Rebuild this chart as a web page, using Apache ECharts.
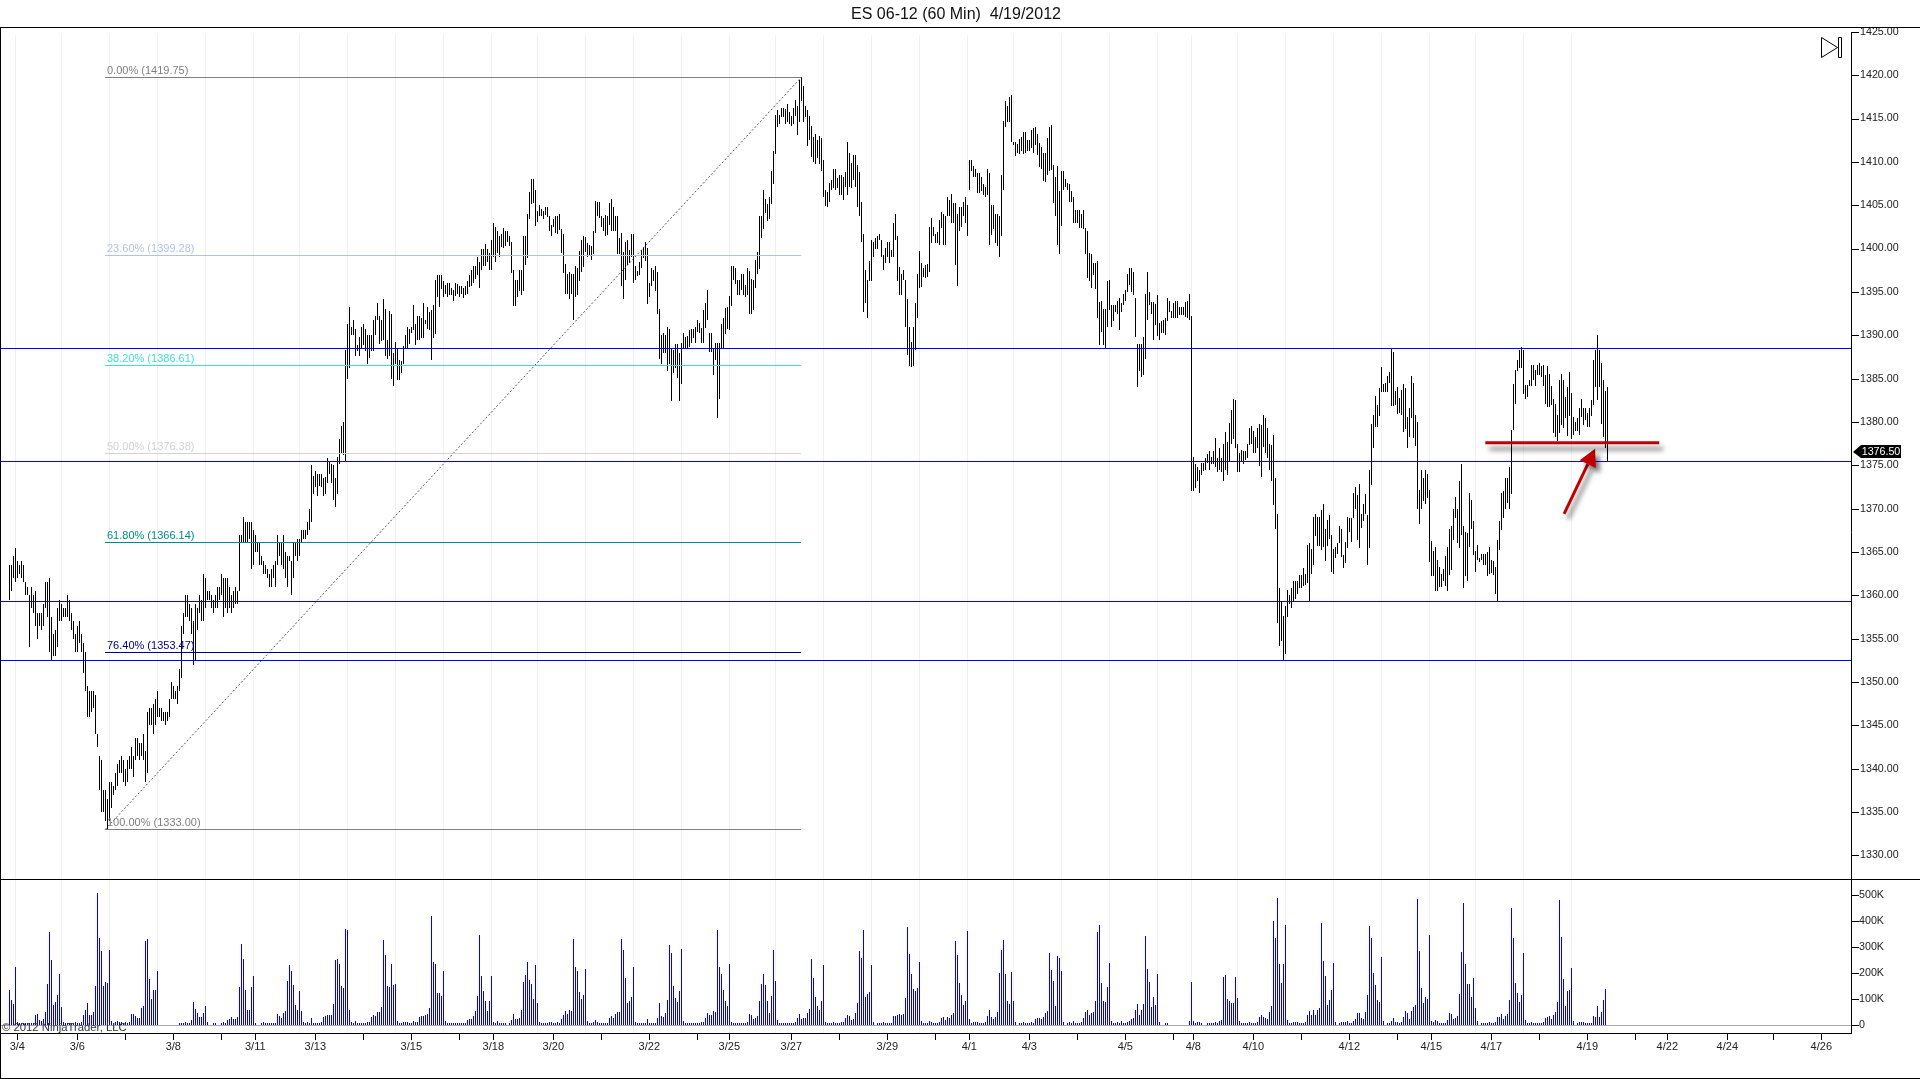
<!DOCTYPE html>
<html><head><meta charset="utf-8"><style>html,body{margin:0;padding:0;background:#fff}#c{width:1920px;height:1079px}</style>
<script src="https://cdn.jsdelivr.net/npm/echarts@6/dist/echarts.min.js"></script></head><body><div id="c"></div><script>
const titleText='ES 06-12 (60 Min)  4/19/2012';
const priceTicks=[1330,1335,1340,1345,1350,1355,1360,1365,1370,1375,1380,1385,1390,1395,1400,1405,1410,1415,1420,1425];
const volumeTicks=[0,100,200,300,400,500];
const tickBars=[4,34,58,82,106,123,153,177,201,225,242,272,296,320,344,360,391,415,439,463,480,510,534,558,582,592,622,646,670,694,711,741,765,789,813,829,859,882,906];
const tickLabels=['3/4','3/6','','3/8','','3/11','3/13','','3/15','','3/18','3/20','','3/22','','3/25','3/27','','3/29','','4/1','4/3','','4/5','','4/8','4/10','','4/12','','4/15','4/17','','4/19','','4/22','4/24','','4/26'];
const gridBars=[3,26,50,74,98,122,145,169,193,217,241,264,288,312,336,360,383,407,431,455,479,502,526,550,574,591,614,638,662,686,710,733,757,781];
const levels=[1388.5,1375.45,1359.3,1352.5];
const fibPct=['0.00%','23.60%','38.20%','50.00%','61.80%','76.40%','100.00%'];
const fibVal=[1419.75,1399.28,1386.61,1376.38,1366.14,1353.47,1333.00];
const fibCol=['#808080','#B0C4DE','#40E0D0','#D3D3D3','#008B8B','#000080','#808080'];
const fibRange=[48,396];
const lastPrice=1376.5;
const redLine=[[738,1377.6],[825,1377.6]];
const redArrow=[[777.4,1369.4],[792.9,1376.9]];
// [high, low] of each 60 minute bar
const hiLo=[[1363.5,1359.5],[1363.5,1360.5],[1364.5,1362],[1365.5,1361.5],[1364,1362],[1363.5,1362.5],[1364,1362],[1363.5,1361.5],[1361.5,1360],[1361,1360],
[1360,1354],[1361,1358.5],[1360,1358],[1360.5,1356.5],[1358,1355],[1358,1356.5],[1358,1356],[1359,1356.5],[1361.5,1358.5],[1361.5,1357.5],
[1362,1353.5],[1357.5,1352.5],[1355.5,1353],[1356,1353],[1358.5,1354],[1359.5,1357],[1359,1357],[1358.5,1357.5],[1358.5,1357.5],[1360,1357.5],
[1359.5,1357],[1358,1356],[1357,1355],[1355.5,1353.5],[1356.5,1353.5],[1357,1354.5],[1355.5,1353.5],[1354.5,1351],[1353.5,1349],[1349.5,1346],
[1349,1346],[1349,1346.5],[1349,1347],[1348.5,1344],[1344,1342.5],[1341.5,1337.5],[1341,1335],[1337.5,1335],[1337.5,1334],[1336.5,1333],
[1338.5,1334],[1338.5,1335.5],[1338,1337],[1339.5,1337.5],[1340.5,1338],[1341,1339.5],[1341.5,1339.5],[1341,1338.5],[1340,1338],[1341,1338.5],
[1341.5,1340],[1342.5,1340],[1341.5,1339],[1343.5,1341],[1343.5,1341.5],[1343,1341],[1343,1341.5],[1344,1341],[1342,1338.5],[1346.5,1339.5],
[1347,1345],[1347,1345],[1347.5,1344],[1348,1345],[1349,1346],[1347,1346],[1347,1345.5],[1346.5,1345.5],[1346.5,1345],[1346.5,1345.5],
[1348,1346],[1350,1348],[1349.5,1348],[1349,1348],[1349.5,1347.5],[1351.5,1349],[1356.5,1350.5],[1358,1355.5],[1360,1357.5],[1360,1357.5],
[1359,1357],[1358.5,1355.5],[1357,1352],[1359,1352.5],[1358.5,1356],[1360,1358],[1359.5,1357],[1362.5,1357],[1362,1358.5],[1360.5,1359.5],
[1360.5,1359.5],[1360,1358.5],[1359.5,1358],[1360,1358.5],[1361,1358.5],[1361,1359.5],[1362.5,1360],[1362,1357.5],[1362,1358.5],[1362,1358],
[1361,1358.5],[1360,1358],[1360.5,1358.5],[1361,1359],[1360.5,1359],[1367,1360.5],[1367,1366],[1369,1366],[1368.5,1366],[1368.5,1366],
[1368.5,1366.5],[1368.5,1363],[1367.5,1363.5],[1367,1365],[1366,1365],[1366,1363.5],[1364.5,1363.5],[1364,1362.5],[1363.5,1362.5],[1363,1362],
[1362.5,1361],[1363,1361],[1363.5,1362],[1364,1361],[1367,1363.5],[1366,1364.5],[1366,1363.5],[1367,1363],[1365,1362],[1364.5,1361],
[1364.5,1364],[1364,1360],[1366,1362],[1366,1364.5],[1366.5,1364],[1366.5,1364.5],[1367.5,1366],[1367.5,1366.5],[1367.5,1366.5],[1368.5,1367],
[1370,1367.5],[1375,1368.5],[1373.8,1371.7],[1374.3,1372.5],[1374,1371.5],[1374,1372.6],[1374,1372.5],[1373.5,1371.5],[1373.7,1371.7],[1375.8,1373],
[1375.4,1374],[1375.2,1373],[1375,1371],[1373.5,1370.2],[1376,1371.7],[1378,1375.2],[1379.5,1376.4],[1380,1376.2],[1388.3,1375.4],[1391.3,1385],
[1393.2,1386.2],[1391,1390],[1391.7,1390],[1390.7,1387.6],[1388.9,1388.2],[1389.8,1387.6],[1391,1388.5],[1391.3,1388.9],[1390.7,1388.2],[1390,1386.7],
[1390,1387.4],[1390,1388.2],[1391.7,1388.2],[1392.2,1390],[1393.7,1391.7],[1392.2,1389],[1391.7,1389.3],[1394.2,1389.5],[1393,1387.6],[1389.5,1387.3],
[1392.8,1387.6],[1392.5,1385],[1388,1384.1],[1389.2,1386.7],[1388.4,1384.8],[1387.2,1384.8],[1387,1385.7],[1388.8,1386.7],[1390,1388.5],[1391,1388.5],
[1390.7,1389],[1391,1390.2],[1393.5,1390.6],[1391.3,1388.9],[1392.2,1389.5],[1392.2,1389.5],[1392,1389.7],[1393.7,1389.7],[1391.7,1391.3],[1393.2,1390.7],
[1392.7,1390.6],[1392.9,1387.1],[1393.5,1389.7],[1396.4,1390.1],[1397,1394.4],[1397,1393.2],[1397,1395.3],[1396.2,1394.4],[1395.8,1394.8],[1396,1394.4],
[1396,1394.6],[1395.5,1394.6],[1395.2,1394],[1396,1394.5],[1395.9,1394.8],[1395.7,1394.4],[1395.7,1394.8],[1395.5,1394.3],[1395.7,1394.6],[1396.2,1394.8],
[1397,1395.6],[1397.5,1395.7],[1398,1396],[1398,1396.5],[1399,1397],[1398.5,1395.5],[1400,1397.5],[1400,1398],[1400.5,1398],[1400,1398.5],
[1399.5,1397.5],[1401,1397.5],[1403,1399],[1402.5,1398.5],[1402,1399.5],[1401.5,1399],[1401.7,1400.2],[1402.4,1400.1],[1402,1400.3],[1402,1400.8],
[1401.5,1400.3],[1400.8,1397.2],[1397.5,1393.4],[1396.4,1393.4],[1396.4,1394.4],[1397.5,1395.1],[1397.5,1394.6],[1401.5,1395.1],[1401.5,1398.1],[1404,1398.9],
[1406.5,1403.4],[1408,1405.1],[1408,1405.2],[1406.7,1402.6],[1404.3,1403.1],[1405,1403.7],[1404.6,1403.7],[1404.3,1403.4],[1404.8,1403.9],[1404.8,1403.6],
[1403.7,1402],[1402.7,1401.4],[1403.4,1402.5],[1403.7,1401.8],[1403.7,1401.7],[1404,1402.1],[1402.3,1399.5],[1401.7,1397.2],[1398.2,1394.8],[1397.1,1394.8],
[1397.3,1394.2],[1397.1,1394.8],[1397.1,1391.7],[1398,1394.4],[1397.7,1394.6],[1399.7,1396.2],[1401,1397.3],[1401.5,1397.9],[1401.3,1399.6],[1400.6,1399],
[1400.4,1399.3],[1400.3,1398.7],[1402,1399.4],[1405.5,1401.8],[1405.4,1403.7],[1405.4,1403.5],[1403.7,1402.5],[1403.5,1402],[1403.9,1401.4],[1403.7,1401.6],
[1405.3,1402.7],[1405.7,1402],[1404.8,1402],[1403.7,1402],[1403.7,1399.4],[1401.2,1399.4],[1401.8,1395.7],[1399.6,1394.2],[1400.8,1396.4],[1401,1398.1],
[1399.8,1398.3],[1401.7,1399],[1401.7,1396],[1398,1396.4],[1397.4,1396.8],[1398.5,1397],[1399.8,1397.7],[1400.2,1398.9],[1400.7,1398.6],[1400.1,1393.6],
[1396,1394.4],[1397.7,1395.7],[1397.5,1396.2],[1398,1395.1],[1397.3,1392.5],[1393,1387.3],[1390,1386.7],[1390.2,1388],[1390,1387.9],[1391,1385.9],
[1390.7,1386.7],[1388.4,1382.4],[1388.3,1385.6],[1389,1386.2],[1389,1385.1],[1388,1382.4],[1389.1,1384.4],[1390.2,1388.5],[1389.8,1388.5],[1389.9,1388.5],
[1390.6,1388.6],[1390.7,1389.1],[1390.7,1389.7],[1391,1389.1],[1391.7,1390.4],[1391.4,1390.2],[1390.8,1389.1],[1392.9,1389.1],[1393.7,1390.8],[1395.2,1391.8],
[1390.2,1388.1],[1390.2,1388.1],[1388.5,1385.4],[1389.1,1387.1],[1389.1,1380.5],[1389.1,1382.7],[1391.3,1388.5],[1392,1388.5],[1393.1,1390.1],[1393.2,1390.7],
[1394.5,1390.6],[1398,1393.4],[1398,1396.4],[1397.7,1395.9],[1396.4,1394.6],[1396.4,1394.6],[1397.1,1395.2],[1397.1,1394.6],[1395.8,1394.4],[1397.7,1394.6],
[1397.4,1392.4],[1396.5,1392.4],[1396.4,1392.9],[1398.7,1395.4],[1399.6,1397.1],[1403.7,1397.6],[1403.7,1401.2],[1406.8,1402.3],[1405.7,1404.1],[1405.1,1403.2],
[1406,1403.4],[1408.9,1405.1],[1411.3,1407.4],[1415.4,1410.9],[1416,1414],[1415.4,1414.4],[1416.2,1415.2],[1416.2,1415.2],[1416.1,1414.4],[1416.7,1414.6],
[1415.8,1414.4],[1415.3,1414.1],[1416.2,1414.4],[1417.1,1415.3],[1416.4,1413.1],[1419.4,1414.6],[1419.75,1417],[1418.7,1414.6],[1416.5,1415.2],[1416,1411.8],
[1415.3,1412.5],[1414.1,1410.6],[1412.9,1410],[1413.2,1409.8],[1412.5,1410.4],[1413,1409.8],[1412.7,1408.9],[1410.2,1406],[1406.7,1404.9],[1406.5,1404.8],
[1407.6,1405.4],[1407.9,1406.8],[1409.2,1407],[1409.2,1406.8],[1408.1,1407],[1408.5,1406.2],[1408.5,1406.2],[1408.3,1405.6],[1408.8,1407.1],[1412.3,1406.2],
[1411,1407.1],[1409.9,1407],[1410.8,1407.9],[1410.8,1407.1],[1409.6,1404.8],[1408.8,1403.7],[1405.4,1400.7],[1401.7,1392.7],[1397.5,1393.7],[1396.4,1392],
[1398.6,1396.2],[1401,1396.2],[1400.8,1399],[1401.2,1400],[1401.5,1399.9],[1401.7,1401],[1401,1399],[1399.2,1397.5],[1400.1,1398.3],[1400.8,1399],
[1400.7,1398.3],[1399.8,1399],[1403,1399],[1404,1401],[1401.5,1396.2],[1397.9,1394.6],[1397.1,1394.6],[1397.5,1396.4],[1396.4,1391],[1394.2,1387.7],
[1391,1386.4],[1389.2,1386.3],[1391,1386.5],[1393.7,1388.3],[1397.1,1392],[1399.7,1395.4],[1398.3,1395.6],[1397.7,1396.7],[1398.1,1396.6],[1398.2,1396.7],
[1402.5,1397.3],[1403.5,1400.6],[1402.5,1401.4],[1401.7,1400.6],[1401.9,1400.6],[1403.3,1400.4],[1404.2,1402.4],[1404,1400.4],[1403.7,1400.4],[1406,1403.7],
[1405.6,1403.7],[1406.3,1402.9],[1405.2,1402.9],[1405.2,1398.1],[1404,1395.7],[1404.8,1402],[1404.8,1402.5],[1405.4,1403.7],[1406,1403],[1405,1401.4],
[1410.2,1406.7],[1410.2,1408.9],[1409.5,1408.3],[1409.2,1408.2],[1408.7,1406.4],[1408.7,1406.4],[1408.2,1406.6],[1407.5,1406.2],[1407.1,1406],[1409.2,1406.2],
[1408.7,1400.4],[1405,1401.6],[1405,1402.2],[1404,1400.6],[1404,1400.3],[1403.7,1399],[1408.5,1401.4],[1414.7,1406.7],[1417,1414],[1416.4,1414.6],
[1417.5,1414.6],[1417.7,1412.3],[1412.3,1412],[1412.3,1410.7],[1412.1,1411],[1412.6,1410.9],[1412.9,1411.2],[1413.5,1410.9],[1413.4,1411],[1412.5,1411.3],
[1412.5,1411.2],[1413.7,1411.6],[1413.9,1411],[1414,1412],[1413.2,1410.8],[1412.2,1409.4],[1411.7,1409.2],[1411,1407.8],[1411,1407.7],[1412.7,1408.5],
[1414,1408.9],[1414.2,1409.1],[1409.6,1405.2],[1408.3,1403.7],[1409.5,1400.4],[1406.6,1399.4],[1409,1402.6],[1408.9,1406.7],[1408,1407.1],[1407.6,1406.7],
[1407.5,1405.4],[1406.6,1405.4],[1406,1403],[1404.5,1403],[1404.5,1402.9],[1404.5,1402.4],[1404,1402.4],[1404.5,1402.3],[1402.4,1399.4],[1402,1396.6],
[1399.5,1396.2],[1399.4,1395.4],[1398.3,1396.9],[1398.3,1395.3],[1398.6,1392],[1393.8,1388.9],[1394,1390.4],[1393,1388.9],[1393,1388.5],[1396.3,1391],
[1396.4,1392.9],[1393.5,1391],[1393.5,1391.6],[1393.5,1392.7],[1394,1392.5],[1394.3,1390.6],[1393.7,1392.7],[1394.8,1393.5],[1395.2,1393.9],[1397.1,1395],
[1397.7,1395.8],[1397.7,1395],[1397.3,1394.6],[1394.3,1389.8],[1389,1384],[1389,1385.9],[1389,1385.2],[1389.8,1385.4],[1394.8,1387.3],[1397.3,1391.7],
[1395,1393.5],[1393.8,1392.5],[1393.8,1389.5],[1393.6,1391.2],[1394.6,1389.9],[1391.4,1389.5],[1391.6,1390.3],[1391.8,1390.3],[1392,1390],[1394.3,1391.6],
[1393.9,1392.7],[1392.8,1392],[1393.7,1392],[1394,1392],[1394,1392],[1393.3,1392.3],[1393.3,1392.3],[1393.3,1392.3],[1393.8,1392.1],[1394,1392],
[1394.8,1391.8],[1392.2,1372],[1376,1372],[1375.2,1372.4],[1374.8,1373.2],[1374.5,1371.8],[1375.3,1373.9],[1375.3,1374.3],[1375.8,1374.5],[1376.3,1375.3],
[1376.6,1374.4],[1376,1375.1],[1376.6,1375.2],[1378.2,1374.8],[1375.8,1374.2],[1377,1374.4],[1375.8,1374.2],[1377.5,1373.2],[1378.8,1374.4],[1377.7,1373.9],
[1379.9,1375.4],[1381.4,1377.5],[1382.7,1378],[1382.5,1377],[1377.5,1374.2],[1376.4,1374.2],[1376.8,1375.4],[1376.6,1375.2],[1376.6,1375.6],[1377.5,1375.8],
[1379.3,1377.3],[1379.5,1377.5],[1379,1376.4],[1378.3,1376.4],[1379.3,1377],[1379.8,1374.9],[1379.6,1373.7],[1380.8,1377.1],[1380.5,1376.4],[1379.3,1375.8],
[1377.5,1374.4],[1377.3,1373.2],[1378.5,1370.4],[1373.5,1367.7],[1369.4,1356.8],[1360.8,1354.1],[1359.3,1354.7],[1357.6,1352.5],[1358.8,1353.2],[1360.6,1357.5],
[1360,1359],[1360.8,1358.5],[1361.7,1359.4],[1361.6,1359.6],[1361.7,1360.2],[1362.3,1360.8],[1362.3,1360.8],[1363.2,1361.1],[1362.5,1361.2],[1365.8,1361.4],
[1366,1359.3],[1365.3,1362.5],[1369,1363.5],[1369.4,1366.8],[1369,1365.7],[1369,1365.7],[1369.8,1365.2],[1370.5,1365.6],[1367.7,1364],[1368.7,1365.7],
[1369.3,1366.5],[1367,1362.7],[1365.3,1362.5],[1365.6,1364.3],[1366,1364.8],[1368,1366],[1367.7,1364.4],[1364.6,1363.2],[1366.2,1363.7],[1369,1365.5],
[1368.9,1367.3],[1368.9,1366.2],[1371.8,1368.9],[1372.5,1369.9],[1371.6,1366.4],[1372.8,1365.5],[1369.4,1367.8],[1370.5,1368.6],[1371.7,1369.4],[1369.3,1363.5],
[1374.4,1365.5],[1379.8,1372.7],[1380.8,1377],[1383,1379.4],[1382,1379.4],[1383.9,1380.7],[1386.3,1383.5],[1384.4,1383.5],[1384.5,1383.5],[1385.3,1383.4],
[1385.8,1384.5],[1388.5,1381.8],[1388.1,1381.8],[1383.6,1382],[1384,1380.9],[1382.8,1381],[1383.7,1380.8],[1384.4,1378.8],[1383.9,1379.2],[1380.6,1377],
[1381.6,1378.3],[1385.3,1380.4],[1384.5,1378.2],[1380.8,1377.2],[1380,1369.9],[1372.2,1368.2],[1374.4,1369.9],[1373.5,1370.9],[1374.5,1370.5],[1374,1371.2],
[1372.2,1363.8],[1366.3,1362.2],[1365.1,1362.2],[1365.6,1360.5],[1364.1,1360.5],[1363.3,1361],[1362.5,1361],[1363,1361.6],[1364.5,1361.1],[1365.6,1360.5],
[1367.7,1362.3],[1368,1362.9],[1370,1366.4],[1371.3,1368.9],[1370,1366],[1373.2,1365.5],[1375.2,1367],[1368,1360.8],[1367.3,1362.2],[1367.2,1361.7],
[1371.8,1365.6],[1371,1367.7],[1368.6,1364.6],[1365.1,1362.7],[1365.8,1364.1],[1364.3,1363.8],[1364.8,1364.1],[1364.8,1363.5],[1364.8,1363.5],[1365,1362.2],
[1365.6,1362.5],[1364.1,1362.6],[1363.9,1362.3],[1363.3,1360.2],[1366.4,1359.3],[1368.6,1365.2],[1371.8,1367.5],[1372,1368.9],[1373.5,1370],[1373.5,1370.6],
[1374.8,1369.9],[1379.1,1371.7],[1384.4,1379.1],[1386,1382.1],[1387.2,1385.9],[1388.3,1386.2],[1388.7,1386.2],[1388.3,1383.2],[1384.3,1382.7],[1384.3,1382.9],
[1384.8,1384.1],[1386.6,1384.1],[1386.6,1384.8],[1386,1384.1],[1386.6,1385.4],[1386.8,1385.4],[1386.4,1385.2],[1386.6,1384.1],[1385.4,1382.1],[1386.4,1381.7],
[1385.5,1381.7],[1384.1,1382],[1382.7,1378.7],[1382.1,1378.3],[1380.8,1377.8],[1384.8,1378.7],[1385.5,1379.6],[1384.8,1379.3],[1382.9,1380.4],[1384,1378.4],
[1385.8,1380.7],[1383.3,1378],[1380.6,1378.5],[1380,1379],[1380.4,1378.9],[1381.6,1378.5],[1382.7,1380.6],[1381.6,1379.6],[1381.6,1380.2],[1381,1379.4],
[1381.6,1379.4],[1382.5,1380.7],[1387.2,1382],[1388.3,1384],[1390,1382.5],[1388.3,1384],[1386.8,1379.8],[1384.8,1378.3],[1383.6,1377],[1384,1375.4]];
// volume of each bar, thousands of contracts
const volumesK=[133,95,80,220,10,6,8,6,5,8,6,5,8,37,41,20,13,22,50,156,356,248,75,87,114,195,68,9,6,8,6,5,8,10,8,6,10,37,56,83,37,37,49,149,506,333,283,149,164,160,287,13,5,10,14,10,9,5,9,5,9,41,41,33,26,26,64,72,322,329,176,99,133,133,206,
0,0,0,0,0,0,0,0,0,0,5,8,5,10,5,6,18,87,60,45,29,29,45,72,10,0,0,5,5,0,0,6,10,8,18,22,29,22,23,29,145,310,253,133,56,56,145,187,6,0,0,5,10,6,6,5,5,5,5,41,33,26,45,53,168,229,206,153,76,56,129,53,9,5,9,
5,26,8,6,5,5,10,29,33,37,37,37,79,249,253,233,149,141,368,364,56,10,5,14,5,6,5,6,6,10,10,29,37,33,49,49,68,326,268,149,145,233,153,156,14,5,6,10,10,10,6,5,14,9,10,29,33,33,37,41,64,418,241,233,122,122,110,206,14,6,
6,6,6,6,6,6,6,6,6,18,22,22,33,53,110,345,187,129,91,53,91,187,9,5,14,5,6,5,5,0,5,18,41,22,22,26,56,164,191,241,172,156,99,229,83,9,6,6,6,6,10,10,6,6,9,6,22,37,53,41,56,53,329,222,206,126,99,114,214,14,
6,5,9,18,9,6,6,6,5,5,26,33,26,41,49,49,329,287,179,83,91,106,222,10,6,6,6,6,6,22,6,6,6,6,26,83,33,29,45,95,306,276,149,103,87,129,291,14,6,6,6,6,6,6,6,6,10,10,26,45,37,37,53,49,364,222,195,133,91,72,233,10,
6,6,6,6,6,6,6,10,41,37,22,26,33,91,156,195,153,91,45,110,287,168,18,6,6,6,6,6,6,6,6,10,26,41,22,26,26,45,60,253,179,106,72,56,91,229,10,6,6,6,10,6,6,6,10,10,26,37,33,18,22,45,83,283,256,364,106,118,126,229,10,0,
6,6,6,10,6,6,6,6,33,33,37,41,37,41,103,376,272,195,137,129,141,241,14,6,6,6,14,10,6,6,6,10,26,29,18,29,26,37,45,322,268,160,114,76,91,360,22,6,10,10,10,6,6,6,10,33,56,29,22,29,49,199,287,326,195,91,79,203,91,10,0,
6,6,10,6,6,6,10,6,22,26,26,22,29,45,53,276,210,168,72,264,256,206,10,0,6,10,6,14,6,6,6,10,26,49,56,37,45,49,91,356,383,160,91,87,145,237,14,6,6,10,6,14,6,6,10,14,22,26,56,79,37,56,79,341,214,164,68,106,76,195,10,0,0,6,6,
0,0,0,0,0,0,0,0,0,0,14,164,14,6,10,10,6,0,0,6,6,6,6,10,6,14,18,183,191,99,91,83,83,183,103,14,6,6,6,6,10,6,6,6,10,29,37,29,26,22,49,72,399,333,487,233,160,233,383,18,6,6,10,10,10,6,6,6,10,37,53,37,56,37,56,64,391,245,187,76,95,133,237,10,0,
6,10,10,10,14,6,6,14,22,45,45,26,22,49,114,379,333,199,153,95,87,260,14,0,6,6,14,26,10,10,6,10,29,53,45,22,53,68,76,483,283,141,83,106,99,345,14,10,18,14,6,6,6,6,18,45,41,22,26,33,118,279,468,233,156,156,106,179,64,14,0,
6,6,6,6,10,6,6,10,29,29,41,22,33,41,95,449,333,160,122,87,114,276,18,6,6,10,6,6,6,6,6,10,26,29,33,22,37,49,87,479,337,176,72,129,133,218,14,0,6,10,10,10,6,6,6,6,33,29,72,29,49,95,137];

const PX=(v)=>Math.round(v);
const rect=(x,y,w,h,fill)=>({type:'rect',shape:{x,y,width:w,height:h},style:{fill}});
const base={type:'custom',silent:true,animation:false};
const yTick=(api,p)=>{const y=PX(api.coord([0,api.value(0)])[1]);return rect(p.coordSys.x+p.coordSys.width,y,7,1,'#000');};
const option={
 animation:false,
 title:{text:titleText,left:951,top:2,textAlign:'center',textStyle:{fontFamily:'Liberation Sans',fontSize:16,fontWeight:'normal',color:'#111'}},
 grid:[{left:1,right:68,top:28,height:852},{left:1,right:68,top:880,height:153}],
 xAxis:[
  {gridIndex:0,type:'value',min:-4.15,max:921.35,show:false},
  {gridIndex:1,type:'value',min:-4.15,max:921.35,position:'bottom',
   axisLine:{show:false},splitLine:{show:false},axisTick:{show:false},
   axisLabel:{show:true,customValues:tickBars.filter((b,i)=>tickLabels[i]),margin:8,hideOverlap:false,showMinLabel:true,showMaxLabel:true,
     formatter:v=>tickLabels[tickBars.indexOf(v)]||'',fontFamily:'Liberation Sans',fontSize:11,color:'#222'}}
 ],
 yAxis:[
  {gridIndex:0,type:'value',position:'right',min:1327.16,max:1425.44,axisLine:{show:false},splitLine:{show:false},axisTick:{show:false},
   axisLabel:{customValues:priceTicks,margin:8,padding:[2,0,0,0],formatter:v=>v.toFixed(2),fontFamily:'Liberation Sans',fontSize:10.7,color:'#222'}},
  {gridIndex:1,type:'value',position:'right',min:-31.9,max:556.5,axisLine:{show:false},splitLine:{show:false},axisTick:{show:false},
   axisLabel:{customValues:volumeTicks,margin:7,padding:[2,0,0,0],formatter:v=>v?v+'K':'0',fontFamily:'Liberation Sans',fontSize:10.7,color:'#222'}}
 ],
 series:[
  {...base,name:'gridP',xAxisIndex:0,yAxisIndex:0,z:1,data:gridBars.map(b=>[b]),encode:{x:0},
   renderItem:(p,api)=>{const x=PX(api.coord([api.value(0),1400])[0]);return rect(x,p.coordSys.y+7,1,p.coordSys.height-7,'#f0f0f0');}},
  {...base,name:'gridV',xAxisIndex:1,yAxisIndex:1,z:1,data:gridBars.map(b=>[b]),encode:{x:0},
   renderItem:(p,api)=>{const x=PX(api.coord([api.value(0),0])[0]);return rect(x,p.coordSys.y,1,p.coordSys.height,'#f0f0f0');}},
  {...base,name:'zero',xAxisIndex:1,yAxisIndex:1,z:2,data:[[0]],encode:{y:0},
   renderItem:(p,api)=>{const y=PX(api.coord([0,api.value(0)])[1]);return rect(p.coordSys.x,y,p.coordSys.width,1,'#aaaaaa');}},
  {...base,name:'priceTicks',xAxisIndex:0,yAxisIndex:0,z:9,clip:false,data:priceTicks.map(v=>[v]),encode:{y:0},renderItem:(p,api)=>yTick(api,p)},
  {...base,name:'volumeTicks',xAxisIndex:1,yAxisIndex:1,z:9,clip:false,data:volumeTicks.map(v=>[v]),encode:{y:0},renderItem:(p,api)=>yTick(api,p)},
  {...base,name:'dateTicks',xAxisIndex:1,yAxisIndex:1,z:9,clip:false,data:tickBars.map(b=>[b]),encode:{x:0},
   renderItem:(p,api)=>{const x=PX(api.coord([api.value(0),0])[0]);return rect(x,p.coordSys.y+p.coordSys.height,1,7,'#000');}},
  {...base,name:'price',xAxisIndex:0,yAxisIndex:0,z:3,data:hiLo.map((d,i)=>[i,d[0],d[1]]),encode:{x:0,y:[1,2]},
   renderItem:(p,api)=>{const x=PX(api.coord([api.value(0),1400])[0]);const y1=PX(api.coord([0,api.value(1)])[1]);const y2=PX(api.coord([0,api.value(2)])[1]);return rect(x,y1,1,Math.max(1,y2-y1),'#000');}},
  {...base,name:'volume',xAxisIndex:1,yAxisIndex:1,z:3,data:volumesK.map((v,i)=>[i,v]).filter(d=>d[1]>0),encode:{x:0,y:1},
   renderItem:(p,api)=>{const x=PX(api.coord([api.value(0),0])[0]);const y1=PX(api.coord([0,api.value(1)])[1]);const y0=PX(api.coord([0,0])[1]);return rect(x,y1,1,Math.max(1,y0-y1),'#0000ff');}},
  {type:'line',name:'trend',xAxisIndex:0,yAxisIndex:0,z:4,silent:true,animation:false,showSymbol:false,
   data:[[fibRange[0],fibVal[6]],[fibRange[1],fibVal[0]]],lineStyle:{color:'#555',width:1,type:[2,2]}},
  {...base,name:'fib',xAxisIndex:0,yAxisIndex:0,z:5,data:fibVal.map((v,i)=>[i,v]),encode:{y:1},
   renderItem:(p,api)=>{const i=api.value(0),v=api.value(1),a=api.coord([fibRange[0],v]),b=api.coord([fibRange[1],v]),y=PX(a[1]);
     return {type:'group',children:[rect(PX(a[0]),y,PX(b[0]-a[0]),1,fibCol[i]),
      {type:'text',style:{x:PX(a[0])+2,y:y-6.5,text:fibPct[i]+' ('+v.toFixed(2)+')',fill:fibCol[i],font:'11px "Liberation Sans"',verticalAlign:'middle',align:'left'}}]};}},
  {...base,name:'levels',xAxisIndex:0,yAxisIndex:0,z:6,data:levels.map(v=>[v]),encode:{y:0},
   renderItem:(p,api)=>{const y=PX(api.coord([0,api.value(0)])[1]);return rect(p.coordSys.x,y,p.coordSys.width,1,'#0000ff');}},
  {type:'line',name:'redLine',xAxisIndex:0,yAxisIndex:0,z:7,silent:true,animation:false,showSymbol:false,data:redLine,
   lineStyle:{color:'#C00000',width:3,cap:'butt',shadowColor:'rgba(0,0,0,0.55)',shadowBlur:5,shadowOffsetX:4,shadowOffsetY:6}},
  {...base,name:'arrow',xAxisIndex:0,yAxisIndex:0,z:7,data:[[...redArrow[0],...redArrow[1]]],encode:{x:[0,2],y:[1,3]},
   renderItem:(p,api)=>{const t=api.coord([api.value(0),api.value(1)]),h=api.coord([api.value(2),api.value(3)]);
     const dx=h[0]-t[0],dy=h[1]-t[1],l=Math.hypot(dx,dy),ux=dx/l,uy=dy/l,bx=h[0]-ux*17,by=h[1]-uy*17,nx=-uy,ny=ux;
     const sh={shadowColor:'rgba(0,0,0,0.55)',shadowBlur:5,shadowOffsetX:4,shadowOffsetY:5};
     return {type:'group',children:[
      {type:'line',shape:{x1:t[0],y1:t[1],x2:bx,y2:by},style:{stroke:'#C00000',lineWidth:3,...sh}},
      {type:'polygon',shape:{points:[h,[bx+nx*9,by+ny*9],[bx-nx*9,by-ny*9]]},style:{fill:'#C00000',...sh}}]};}},
  {...base,name:'last',xAxisIndex:0,yAxisIndex:0,z:8,clip:false,data:[[lastPrice]],encode:{y:0},
   renderItem:(p,api)=>{const v=api.value(0),y=PX(api.coord([0,v])[1]),x=p.coordSys.x+p.coordSys.width+1;
     return {type:'group',children:[
      {type:'polygon',shape:{points:[[x,y],[x+8,y-7],[x+48,y-7],[x+48,y+6],[x+8,y+6]]},style:{fill:'#000'}},
      {type:'text',style:{x:x+28,y:y,text:v.toFixed(2),fill:'#fff',font:'10.7px "Liberation Sans"',align:'center',verticalAlign:'middle'}}]};}}
 ],
 graphic:[
  ...[[0,27.5,1920,27.5],[0,879.5,1920,879.5],[0,1033.5,1852,1033.5],[0,1078.5,1920,1078.5],[0.5,27,0.5,1079],[1851.5,32,1851.5,1033]].map(s=>({type:'line',silent:true,z:20,shape:{x1:s[0],y1:s[1],x2:s[2],y2:s[3]},style:{stroke:'#000',lineWidth:1}})),
  {type:'text',silent:true,z:20,x:2,y:1022,style:{text:'\u00A9 2012 NinjaTrader, LLC',font:'11.3px "Liberation Sans"',fill:'#333'}},
  {type:'polygon',silent:true,z:20,shape:{points:[[1821.5,37.5],[1837.5,47.5],[1821.5,57.5]]},style:{fill:'#fff',stroke:'#000',lineWidth:1}},
  {type:'rect',silent:true,z:20,shape:{x:1838.5,y:37.5,width:3,height:20},style:{fill:'#fff',stroke:'#000',lineWidth:1}}
 ]
};
const chart=echarts.init(document.getElementById('c'),null,{renderer:'canvas',width:1920,height:1079});
chart.setOption(option);
</script></body></html>
